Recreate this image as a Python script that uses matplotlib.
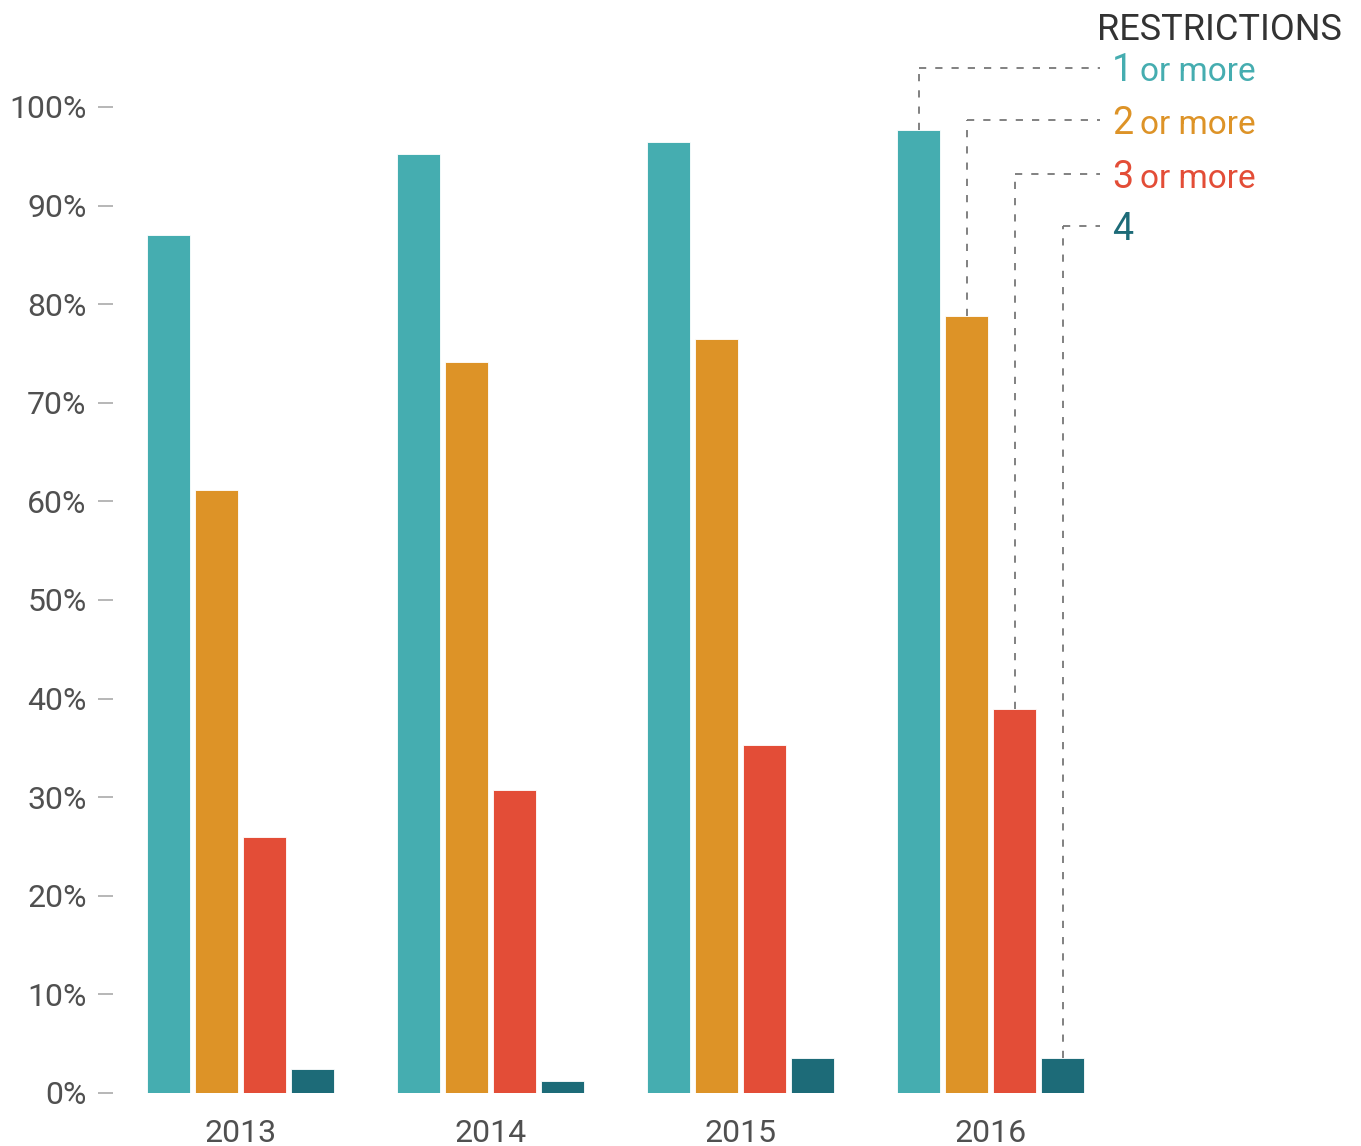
import matplotlib
matplotlib.use("Agg")
import matplotlib.pyplot as plt
import numpy as np

# valori (percentuale)
years = ["2013", "2014", "2015", "2016"]
one_or_more = [87.0, 95.2, 96.4, 97.7]
two_or_more = [61.2, 74.1, 76.5, 78.8]
three_or_more = [26.0, 30.7, 35.3, 38.9]
four = [2.4, 1.2, 3.6, 3.6]
yticks = [0, 10, 20, 30, 40, 50, 60, 70, 80, 90, 100]

labels = [("1", "or more"), ("2", "or more"), ("3", "or more"), ("4", "")]
colors = ["#45adb0", "#dd9327", "#e34d37", "#1d6b78"]
label_y = [104.0, 98.7, 93.2, 87.9]

plt.rcParams["font.family"] = ["Roboto", "DejaVu Sans"]

fig = plt.figure(figsize=(13.61, 11.46), dpi=100)
ax = fig.add_axes([0.0830, 0.04625, 0.7252, 0.8604])

x = np.arange(len(years))
step = 0.192
width = 0.172
series = [one_or_more, two_or_more, three_or_more, four]
for i, vals in enumerate(series):
    off = (i - 1.5) * step
    ax.bar(x + off, vals, width=width, color=colors[i], edgecolor="white", linewidth=0.6)

ax.set_xlim(-0.512, 3.436)
ax.set_ylim(0, 100)
ax.set_yticks(yticks)
ax.set_yticklabels([f"{t}%" for t in yticks])
ax.set_xticks(x)
ax.set_xticklabels(years)
for s in ax.spines.values():
    s.set_visible(False)
ax.tick_params(axis="y", length=11, width=1.2, color="#aaaaaa", pad=8,
               labelsize=23, labelcolor="#505050")
ax.tick_params(axis="x", length=0, pad=19, labelsize=23, labelcolor="#505050")
for lab in ax.get_yticklabels():
    lab.set_va("center_baseline")

# linee tratteggiate verso le etichette (ultimo anno)
last = len(years) - 1
x_end = 3.436
for i, vals in enumerate(series):
    bx = last + (i - 1.5) * step
    top = vals[last]
    ly = label_y[i]
    ax.plot([bx, bx], [top, ly], color="#777777", lw=1.3,
            linestyle=(0, (4, 5)), clip_on=False)
    ax.plot([bx, x_end], [ly, ly], color="#777777", lw=1.3,
            linestyle=(0, (4, 5)), clip_on=False)
    num, rest = labels[i]
    ax.text(3.484, ly - 1.4, num, color=colors[i], fontsize=27,
            va="baseline", ha="left", clip_on=False)
    if rest:
        ax.text(3.596, ly - 1.4, rest, color=colors[i], fontsize=24,
                va="baseline", ha="left", clip_on=False)

fig.text(1342 / 1361, 1 - 26 / 1146, "RESTRICTIONS", ha="right", va="center_baseline",
         fontsize=26, color="#333333")

fig.savefig("out.png", dpi=100)
